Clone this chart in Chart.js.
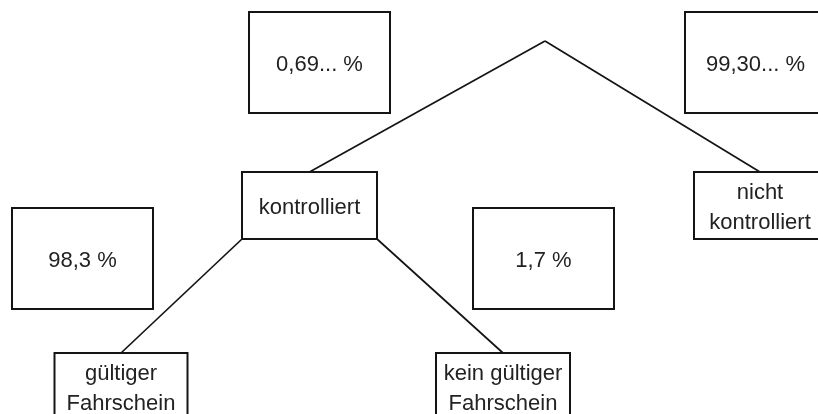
<!DOCTYPE html>
<html><head><meta charset="utf-8">
<script src="https://cdn.jsdelivr.net/npm/chart.js@4/dist/chart.umd.min.js"></script>
<style>html,body{margin:0;padding:0;background:#fff;overflow:hidden}#wrap{width:818px;height:414px}</style>
</head><body><div id="wrap"><canvas id="c" width="818" height="414"></canvas></div>
<script>
// ---- data ----
const nodeLines = [["kontrolliert"], ["nicht", "kontrolliert"], ["gültiger", "Fahrschein"], ["kein gültiger", "Fahrschein"]];
const nodeParents = [-1, -1, 0, 0];           // -1 = root of the tree
const branchLabels = ["0,69... %", "99,30... %", "98,3 %", "1,7 %"];

// ---- layout (diagram plane units) ----
const layout = {
  root: { x: 545, y: 41 },
  nodeCX: [309.5, 760, 121, 503],
  nodeTop: [172, 172, 353, 353],
  nodeW: [135, 132, 133, 134],
  nodeH: 67,
  probCX: [319.5, 755.5, 82.5, 543.5],
  probCY: [62.5, 62.5, 258.5, 258.5],
  probW: 141, probH: 101,
  lineGap: 30,
  textShift: 2
};
const ink = '#141414';
const textInk = '#222222';
const font = "22px 'Liberation Sans', Arial, Helvetica, sans-serif";

// build edges: root -> child top centre; node -> child from bottom corners
const edgeSets = nodeParents.map((p, i) => {
  let start;
  if (p < 0) start = { x: layout.root.x, y: layout.root.y };
  else {
    const siblings = nodeParents.map((q, k) => q === p ? k : -1).filter(k => k >= 0);
    const left = siblings.indexOf(i) === 0;
    start = { x: layout.nodeCX[p] + (left ? -1 : 1) * layout.nodeW[p] / 2, y: layout.nodeTop[p] + layout.nodeH };
  }
  const end = { x: layout.nodeCX[i], y: layout.nodeTop[i] };
  return {
    data: [start, end], showLine: true, pointRadius: 0, borderColor: ink,
    borderWidth: 1.7, fill: false, clip: false
  };
});

const boxPlugin = {
  id: 'boxes',
  afterDatasetsDraw(chart) {
    const { ctx, scales: { x, y } } = chart;
    ctx.save();
    ctx.strokeStyle = ink; ctx.lineWidth = 2; ctx.fillStyle = textInk;
    ctx.font = font; ctx.textAlign = 'center'; ctx.textBaseline = 'middle';
    // node boxes
    nodeLines.forEach((lines, i) => {
      const l = x.getPixelForValue(layout.nodeCX[i] - layout.nodeW[i] / 2);
      const r = x.getPixelForValue(layout.nodeCX[i] + layout.nodeW[i] / 2);
      const t = y.getPixelForValue(layout.nodeTop[i]);
      const b = y.getPixelForValue(layout.nodeTop[i] + layout.nodeH);
      ctx.strokeRect(l, t, r - l, b - t);
      const cx = (l + r) / 2, cy = (t + b) / 2 + layout.textShift;
      lines.forEach((s, k) => {
        ctx.fillText(s, cx, cy + (k - (lines.length - 1) / 2) * layout.lineGap);
      });
    });
    // probability boxes
    branchLabels.forEach((s, i) => {
      const l = x.getPixelForValue(layout.probCX[i] - layout.probW / 2);
      const r = x.getPixelForValue(layout.probCX[i] + layout.probW / 2);
      const t = y.getPixelForValue(layout.probCY[i] - layout.probH / 2);
      const b = y.getPixelForValue(layout.probCY[i] + layout.probH / 2);
      ctx.strokeRect(l, t, r - l, b - t);
      ctx.fillText(s, (l + r) / 2, (t + b) / 2 + layout.textShift);
    });
    ctx.restore();
  }
};

new Chart(document.getElementById('c'), {
  type: 'scatter',
  data: { datasets: edgeSets },
  options: {
    responsive: false, animation: false, events: [],
    layout: { padding: 0 },
    plugins: { legend: { display: false }, tooltip: { enabled: false } },
    scales: {
      x: { type: 'linear', min: 0, max: 818, display: false },
      y: { type: 'linear', min: 0, max: 414, reverse: true, display: false }
    }
  },
  plugins: [boxPlugin]
});
</script></body></html>
